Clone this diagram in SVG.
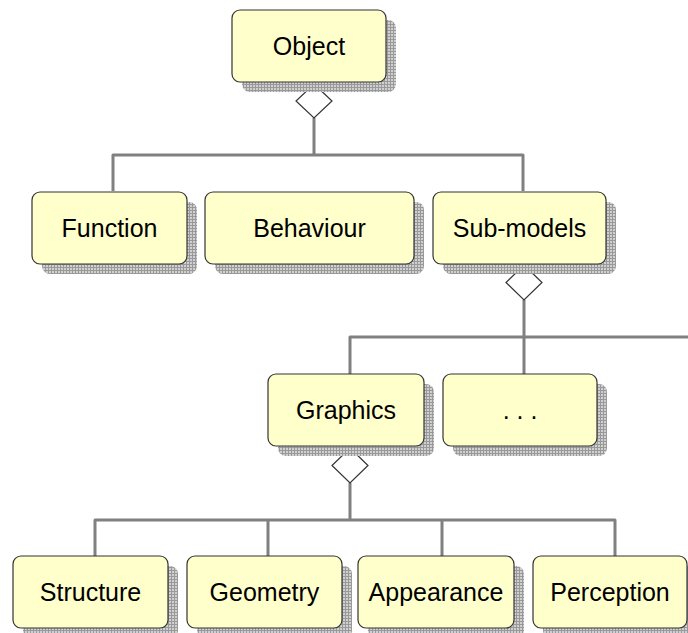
<svg xmlns="http://www.w3.org/2000/svg" width="688" height="633" viewBox="0 0 688 633">
  <style>
    .box { fill: #ffffcc; stroke: #333333; stroke-width: 1.2; }
    .shadow { fill: url(#hatch); }
    .label { font-family: "Liberation Sans", Arial, sans-serif; font-size: 25px; fill: #000000; text-anchor: middle; }
    .wire { fill: none; stroke: #808080; stroke-width: 3; stroke-linejoin: round; }
    .diamond { fill: #ffffff; stroke: #333333; stroke-width: 1.2; }
  </style>
  <defs>
    <!-- cross-hatched drop shadow -->
    <pattern id="hatch" width="3" height="3" patternUnits="userSpaceOnUse">
      <rect width="3" height="3" fill="#d0d0d0"/>
      <path d="M0 0.5H3M0.5 0V3" stroke="#999999" stroke-width="1"/>
    </pattern>
  </defs>

  <!-- connectors -->
  <g id="connectors">
    <path class="wire" d="M314 118V155M113 191V155H523V191"/>
    <path class="wire" d="M524 300V374M350 374V337H700"/>
    <path class="wire" d="M350 483V520M95 556V520H615V556M268 520V556M442 520V556"/>
    <polygon class="diamond" points="314,84 332,101 314,118 296,101"/>
    <polygon class="diamond" points="524,265 542,282.5 524,300 506,282.5"/>
    <polygon class="diamond" points="350,448 368,465.5 350,483 332,465.5"/>
  </g>

  <g id="object">
    <rect class="shadow" x="242" y="20" width="154" height="72" rx="8"/>
    <rect class="box" x="232" y="10" width="154" height="72" rx="8"/>
    <text class="label" x="309" y="55">Object</text>
  </g>

  <g id="function">
    <rect class="shadow" x="42" y="202" width="155" height="72" rx="8"/>
    <rect class="box" x="32" y="192" width="155" height="72" rx="8"/>
    <text class="label" x="109.5" y="237">Function</text>
  </g>

  <g id="behaviour">
    <rect class="shadow" x="215" y="202" width="209" height="72" rx="8"/>
    <rect class="box" x="205" y="192" width="209" height="72" rx="8"/>
    <text class="label" x="309.5" y="237">Behaviour</text>
  </g>

  <g id="sub-models">
    <rect class="shadow" x="443" y="202" width="173" height="72" rx="8"/>
    <rect class="box" x="433" y="192" width="173" height="72" rx="8"/>
    <text class="label" x="519.5" y="237">Sub-models</text>
  </g>

  <g id="graphics">
    <rect class="shadow" x="278" y="384" width="156" height="72" rx="8"/>
    <rect class="box" x="268" y="374" width="156" height="72" rx="8"/>
    <text class="label" x="346" y="419">Graphics</text>
  </g>

  <g id="more">
    <rect class="shadow" x="453" y="384" width="154" height="72" rx="8"/>
    <rect class="box" x="443" y="374" width="154" height="72" rx="8"/>
    <text class="label" x="520" y="419">. . .</text>
  </g>

  <g id="structure">
    <rect class="shadow" x="23" y="566" width="155" height="72" rx="8"/>
    <rect class="box" x="13" y="556" width="155" height="72" rx="8"/>
    <text class="label" x="90.5" y="601">Structure</text>
  </g>

  <g id="geometry">
    <rect class="shadow" x="197" y="566" width="155" height="72" rx="8"/>
    <rect class="box" x="187" y="556" width="155" height="72" rx="8"/>
    <text class="label" x="264.5" y="601">Geometry</text>
  </g>

  <g id="appearance">
    <rect class="shadow" x="368" y="566" width="156" height="72" rx="8"/>
    <rect class="box" x="358" y="556" width="156" height="72" rx="8"/>
    <text class="label" x="436" y="601">Appearance</text>
  </g>

  <g id="perception">
    <rect class="shadow" x="543" y="566" width="154" height="72" rx="8"/>
    <rect class="box" x="533" y="556" width="154" height="72" rx="8"/>
    <text class="label" x="610" y="601">Perception</text>
  </g>
</svg>
